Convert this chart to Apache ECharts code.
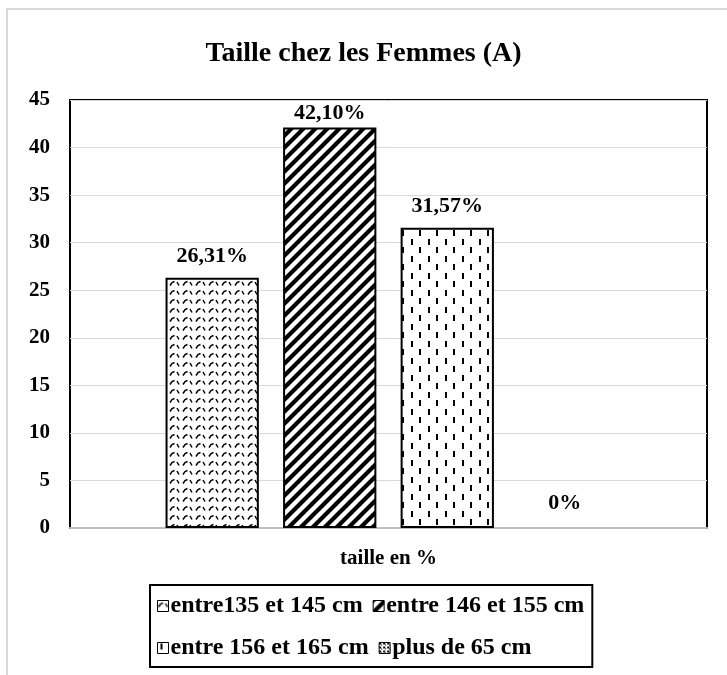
<!DOCTYPE html>
<html>
<head>
<meta charset="utf-8">
<script src="https://cdn.jsdelivr.net/npm/echarts@6/dist/echarts.min.js"></script>
<style>
  html, body { margin: 0; padding: 0; background: #fff; }
  #chart { width: 727px; height: 675px; }
</style>
</head>
<body>
<div id="chart"></div>
<script>
// données
var categories = ['taille en %'];
var seriesNames = ['entre135 et 145 cm', 'entre 146 et 155 cm', 'entre 156 et 165 cm', 'plus de 65 cm'];
var seriesValues = [26.31, 42.10, 31.57, 0];
var valueLabels = ['26,31%', '42,10%', '31,57%', '0%'];
var yTicks = [0, 5, 10, 15, 20, 25, 30, 35, 40, 45];

var font = "'Liberation Serif', 'Times New Roman', serif";

// motifs de remplissage (hachures façon Excel)
function makePattern(w, h, draw) {
    var c = document.createElement('canvas');
    c.width = w;
    c.height = h;
    var ctx = c.getContext('2d');
    ctx.fillStyle = '#fff';
    ctx.fillRect(0, 0, w, h);
    ctx.fillStyle = '#000';
    ctx.strokeStyle = '#000';
    draw(ctx);
    return { image: c, repeat: 'repeat' };
}

var patterns = [
    // vagues
    makePattern(13, 9, function (ctx) {
        ctx.lineWidth = 1.5;
        ctx.beginPath();
        ctx.moveTo(1, 6.5);
        ctx.lineTo(3, 3.5);
        ctx.lineTo(5.5, 2.5);
        ctx.moveTo(8, 3);
        ctx.lineTo(10, 6.5);
        ctx.stroke();
    }),
    // diagonales épaisses
    makePattern(12, 12, function (ctx) {
        ctx.lineWidth = 4.2;
        ctx.beginPath();
        ctx.moveTo(-3, 3); ctx.lineTo(3, -3);
        ctx.moveTo(-3, 15); ctx.lineTo(15, -3);
        ctx.moveTo(9, 15); ctx.lineTo(15, 9);
        ctx.stroke();
    }),
    // tirets verticaux
    makePattern(17, 17, function (ctx) {
        ctx.fillRect(3, 1, 2, 6);
        ctx.fillRect(11, 9, 2, 6);
    }),
    // damier léger
    makePattern(4, 4, function (ctx) {
        ctx.fillRect(0, 0, 2, 2);
        ctx.fillRect(2, 2, 1, 1);
    })
];

var chart = echarts.init(document.getElementById('chart'));

var series = [];
for (var i = 0; i < seriesNames.length; i++) {
    var dist = 10;
    if (seriesValues[i] > 40) dist = 3;      // étiquette collée sous le cadre
    if (seriesValues[i] === 0) dist = 14;
    series.push({
        name: seriesNames[i],
        type: 'bar',
        barGap: '26%',
        barCategoryGap: '30%',
        data: [seriesValues[i]],
        itemStyle: {
            color: patterns[i],
            borderColor: '#000',
            borderWidth: seriesValues[i] > 0 ? 2 : 0
        },
        label: {
            show: true,
            position: 'top',
            distance: dist,
            formatter: (function (idx) { return function () { return valueLabels[idx]; }; })(i),
            color: '#000',
            fontFamily: font,
            fontWeight: 'bold',
            fontSize: 22
        }
    });
}

var option = {
    backgroundColor: '#fff',
    animation: false,
    title: {
        text: 'Taille chez les Femmes (A)',
        left: 'center',
        top: 35,
        textStyle: {
            fontFamily: font,
            fontWeight: 'bold',
            fontSize: 28,
            color: '#000'
        }
    },
    graphic: [{
        type: 'polyline',
        shape: { points: [[7, 680], [7, 9], [730, 9]] },
        style: { stroke: '#d9d9d9', lineWidth: 2, fill: null },
        silent: true
    }],
    grid: {
        left: 70,
        right: 20,
        top: 100,
        bottom: 147,
        show: true,
        borderColor: '#000',
        borderWidth: 2
    },
    legend: {
        left: 150,
        top: 585,
        width: 442,
        padding: [5, 8, 3, 7],
        borderColor: '#000',
        borderWidth: 2,
        itemGap: 10,
        itemWidth: 11,
        itemHeight: 11,
        icon: 'rect',
        itemStyle: { borderColor: '#000', borderWidth: 1 },
        textStyle: {
            fontFamily: font,
            fontWeight: 'bold',
            fontSize: 24,
            color: '#000',
            lineHeight: 32,
            padding: [0, 0, 0, -3]
        },
        data: seriesNames
    },
    xAxis: {
        type: 'category',
        data: categories,
        axisLine: { show: true, lineStyle: { color: '#bfbfbf', width: 2 } },
        axisTick: { show: false },
        axisLabel: {
            margin: 20,
            color: '#000',
            fontFamily: font,
            fontWeight: 'bold',
            fontSize: 21
        }
    },
    yAxis: {
        type: 'value',
        min: yTicks[0],
        max: yTicks[yTicks.length - 1],
        interval: 5,
        axisLine: { show: false },
        axisTick: { show: false },
        splitLine: { lineStyle: { color: '#d9d9d9', width: 1 } },
        axisLabel: {
            margin: 20,
            color: '#000',
            fontFamily: font,
            fontWeight: 'bold',
            fontSize: 21
        }
    },
    series: series
};

chart.setOption(option);
</script>
</body>
</html>
